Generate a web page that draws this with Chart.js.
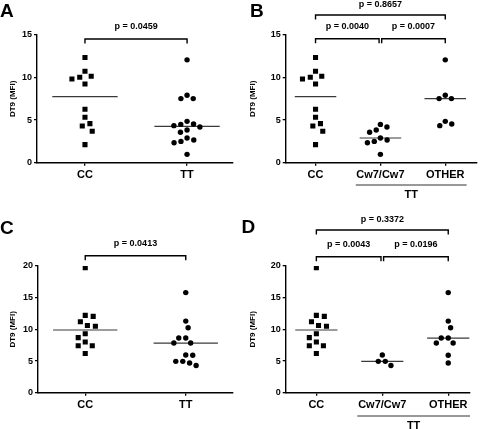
<!DOCTYPE html>
<html><head><meta charset="utf-8">
<script src="https://cdn.jsdelivr.net/npm/chart.js@4/dist/chart.umd.min.js"></script>
<style>
html,body{margin:0;padding:0;background:#fff;}
#wrap{position:relative;width:480px;height:429px;overflow:hidden;}
canvas{position:absolute;}
</style></head><body>
<div id="wrap">
<canvas id="cA" width="240" height="215" style="left:0;top:0"></canvas>
<canvas id="cB" width="240" height="215" style="left:240px;top:0"></canvas>
<canvas id="cC" width="240" height="214" style="left:0;top:215px"></canvas>
<canvas id="cD" width="240" height="214" style="left:240px;top:215px"></canvas>
</div>
<script>
// ---------- data ----------
const panelLetters = ['A', 'B', 'C', 'D'];
const yTitle = 'DT9 (MFI)';
const catsTwo = ['CC', 'TT'];
const catsThree = ['CC', 'Cw7/Cw7', 'OTHER'];
const groupLabel = 'TT';
const yTicksTop = [0, 5, 10, 15];
const yTicksBottom = [0, 5, 10, 15, 20];

// top row (A, B)
const ccTop = [12.35, 10.75, 10.04, 10.16, 9.84, 9.25, 6.27, 5.33, 4.31, 4.59, 3.69, 2.12];
const cw7Top = [4.2, 4.5, 3.57, 3.84, 2.9, 2.5, 2.35, 2.67, 0.98];
const otherTop = [12.08, 7.92, 7.53, 7.53, 4.55, 4.35, 4.86];
// bottom row (C, D)
const ccBottom = [19.74, 12.05, 12.2, 11.2, 10.6, 10.5, 9.3, 8.7, 8.0, 7.4, 7.4, 6.2];
const cw7Bottom = [5.95, 4.95, 4.95, 4.3];
const otherBottom = [15.8, 11.3, 10.26, 8.63, 8.63, 7.84, 7.84, 5.9, 4.7];

const pA = ['p = 0.0459'];
const pB = ['p = 0.0040', 'p = 0.0007', 'p = 0.8657'];
const pC = ['p = 0.0413'];
const pD = ['p = 0.0043', 'p = 0.0196', 'p = 0.3372'];

// ---------- helpers ----------
const FONT = '"Liberation Sans", Arial, Helvetica, sans-serif';
function median(a) {
  const s = [...a].sort((x, y) => x - y), n = s.length;
  return n % 2 ? s[(n - 1) / 2] : (s[n / 2 - 1] + s[n / 2]) / 2;
}

const annot = {
  id: 'annot',
  afterDraw(chart, args, o) {
    const ctx = chart.ctx, xs = chart.scales.x;
    ctx.save();
    ctx.fillStyle = '#000';
    ctx.font = 'bold 19px ' + FONT;
    ctx.textAlign = 'left';
    ctx.textBaseline = 'alphabetic';
    ctx.fillText(o.letter, o.letterX, o.letterY);
    ctx.strokeStyle = '#000';
    ctx.lineWidth = 1.4;
    o.brackets.forEach(b => {
      const x1 = xs.getPixelForValue(b.from) + (b.insetL || 0);
      const x2 = xs.getPixelForValue(b.to) - (b.insetR || 0);
      ctx.beginPath();
      ctx.moveTo(x1, b.y + 4.5); ctx.lineTo(x1, b.y); ctx.lineTo(x2, b.y); ctx.lineTo(x2, b.y + 4.5);
      ctx.stroke();
      ctx.font = 'bold 9px ' + FONT;
      ctx.textAlign = 'center';
      ctx.textBaseline = 'middle';
      ctx.fillText(b.label, (x1 + x2) / 2, b.labelY);
    });
    if (o.group) {
      const g = o.group;
      const x1 = xs.getPixelForValue(g.from), x2 = xs.getPixelForValue(g.to);
      ctx.strokeStyle = '#333';
      ctx.lineWidth = 1;
      ctx.beginPath(); ctx.moveTo(x1, g.y); ctx.lineTo(x2, g.y); ctx.stroke();
      ctx.font = 'bold 11px ' + FONT;
      ctx.textAlign = 'center';
      ctx.textBaseline = 'middle';
      ctx.fillText(g.label, (x1 + x2) / 2, g.labelY);
    }
    ctx.restore();
  }
};

// beeswarm placement in pixel space, then mapped back through the x scale
function swarm(chart) {
  const xs = chart.scales.x, ys = chart.scales.y;
  const ppu = xs.getPixelForValue(1) - xs.getPixelForValue(0);
  chart.data.datasets.forEach(ds => {
    if (!ds.swarmValues) return;
    const D = ds.swarmGap;
    const vals = ds.swarmValues;
    const order = vals.map((v, i) => i).sort((a, b) => vals[b] - vals[a]);
    const placed = [];
    const out = new Array(vals.length);
    let flip = 1;
    order.forEach(i => {
      const py = ys.getPixelForValue(vals[i]);
      const cands = [0];
      placed.forEach(p => {
        const dy = py - p.y;
        if (Math.abs(dy) < D) {
          const h = Math.sqrt(D * D - dy * dy);
          cands.push(p.x + h, p.x - h);
        }
      });
      const ok = cands.filter(c => placed.every(p => Math.hypot(c - p.x, py - p.y) >= D - 0.01));
      let best = null;
      ok.forEach(c => {
        if (best === null || Math.abs(c) < Math.abs(best) - 0.01) best = c;
        else if (Math.abs(Math.abs(c) - Math.abs(best)) <= 0.01 && Math.sign(c) === flip) best = c;
      });
      if (best !== 0) flip = -Math.sign(best);
      placed.push({x: best, y: py});
      out[i] = {x: ds.swarmCat + best / ppu, y: vals[i]};
    });
    ds.data = out;
  });
  chart.update('none');
}

function makePanel(id, cfg) {
  const canvas = document.getElementById(id);
  const W = canvas.width, H = canvas.height;
  const datasets = [];
  cfg.groups.forEach((g, i) => {
    const cat = i + 1, med = median(g.values);
    datasets.push({
      type: 'line',
      data: [{x: cat - 0.32, y: med}, {x: cat + 0.32, y: med}],
      borderColor: '#3a3a3a', borderWidth: 1.2, pointRadius: 0, fill: false, order: 2
    });
    datasets.push({
      type: 'scatter',
      data: g.values.map(v => ({x: cat, y: v})),
      swarmValues: g.values, swarmCat: cat, swarmGap: g.shape === 'rect' ? 8 : 7,
      pointStyle: g.shape, pointRadius: g.shape === 'rect' ? 3.6 : 2.7,
      backgroundColor: '#000', borderWidth: 0, pointHoverRadius: 0, order: 1
    });
  });
  const labels = cfg.groups.map(g => g.label);
  const a = cfg.area;
  const chart = new Chart(canvas, {
    data: {datasets},
    plugins: [annot],
    options: {
      responsive: false, animation: false, devicePixelRatio: 1,
      events: [],
      layout: {padding: {left: 0, top: a.top, right: W - a.right, bottom: 0}},
      plugins: {legend: {display: false}, tooltip: {enabled: false}, annot: cfg.annot},
      scales: {
        x: {
          type: 'linear', min: cfg.xMin, max: cfg.xMax,
          afterBuildTicks: s => { s.ticks = labels.map((l, i) => ({value: i + 1})); },
          afterFit: s => { s.height = H - a.bottom; },
          grid: {drawOnChartArea: false, drawTicks: true, tickLength: 3, color: '#000', lineWidth: 1.3},
          border: {display: true, color: '#000', width: 1.4},
          ticks: {color: '#000', font: {family: FONT, size: 11, weight: 'bold'}, padding: 3,
                  maxRotation: 0, autoSkip: false, callback: v => labels[Math.round(v) - 1]}
        },
        y: {
          type: 'linear', min: 0, max: cfg.yTicks[cfg.yTicks.length - 1],
          afterBuildTicks: s => { s.ticks = cfg.yTicks.map(v => ({value: v})); },
          afterFit: s => { s.width = a.left; },
          grid: {drawOnChartArea: false, drawTicks: true, tickLength: 3, color: '#000', lineWidth: 1.3},
          border: {display: true, color: '#000', width: 1.4},
          ticks: {color: '#000', font: {family: FONT, size: 9, weight: 'bold'}, padding: 2},
          title: {display: true, text: yTitle, color: '#000', font: {family: FONT, size: 8, weight: 'bold'},
                  padding: {top: 7.5, bottom: 0}}
        }
      }
    }
  });
  swarm(chart);
  return chart;
}

makePanel('cA', {
  groups: [{label: catsTwo[0], values: ccTop, shape: 'rect'},
           {label: catsTwo[1], values: cw7Top.concat(otherTop), shape: 'circle'}],
  yTicks: yTicksTop, xMin: 0.53, xMax: 2.45,
  area: {left: 37, right: 233, top: 35, bottom: 162.7},
  annot: {letter: panelLetters[0], letterX: 0, letterY: 17,
          brackets: [{from: 1, to: 2, y: 39, labelY: 27, label: pA[0]}]}
});
makePanel('cB', {
  groups: [{label: catsThree[0], values: ccTop, shape: 'rect'},
           {label: catsThree[1], values: cw7Top, shape: 'circle'},
           {label: catsThree[2], values: otherTop, shape: 'circle'}],
  yTicks: yTicksTop, xMin: 0.54, xMax: 3.48,
  area: {left: 45.7, right: 240, top: 35, bottom: 162.7},
  annot: {letter: panelLetters[1], letterX: 10, letterY: 17,
          brackets: [{from: 1, to: 2, insetR: 1.3, y: 38.7, labelY: 27, label: pB[0]},
                     {from: 2, to: 3, insetL: 1.3, y: 38.7, labelY: 27, label: pB[1]},
                     {from: 1, to: 3, y: 15, labelY: 4.5, label: pB[2]}],
          group: {from: 1.62, to: 3.33, y: 185, labelY: 194.5, label: groupLabel}}
});
makePanel('cC', {
  groups: [{label: catsTwo[0], values: ccBottom, shape: 'rect'},
           {label: catsTwo[1], values: cw7Bottom.concat(otherBottom), shape: 'circle'}],
  yTicks: yTicksBottom, xMin: 0.53, xMax: 2.47,
  area: {left: 38, right: 233, top: 51, bottom: 177.7},
  annot: {letter: panelLetters[2], letterX: 0, letterY: 18.7,
          brackets: [{from: 1, to: 2, y: 40.7, labelY: 29, label: pC[0]}]}
});
makePanel('cD', {
  groups: [{label: catsThree[0], values: ccBottom, shape: 'rect'},
           {label: catsThree[1], values: cw7Bottom, shape: 'circle'},
           {label: catsThree[2], values: otherBottom, shape: 'circle'}],
  yTicks: yTicksBottom, xMin: 0.535, xMax: 3.33,
  area: {left: 45.7, right: 230, top: 51, bottom: 177.7},
  annot: {letter: panelLetters[3], letterX: 1.5, letterY: 18.3,
          brackets: [{from: 1, to: 2, insetR: 1.3, y: 41.7, labelY: 29.3, label: pD[0]},
                     {from: 2, to: 3, insetL: 1.3, y: 41.7, labelY: 29.3, label: pD[1]},
                     {from: 1, to: 3, y: 15, labelY: 5, label: pD[2]}],
          group: {from: 1.62, to: 3.33, y: 201, labelY: 211, label: groupLabel}}
});
</script>
</body></html>
